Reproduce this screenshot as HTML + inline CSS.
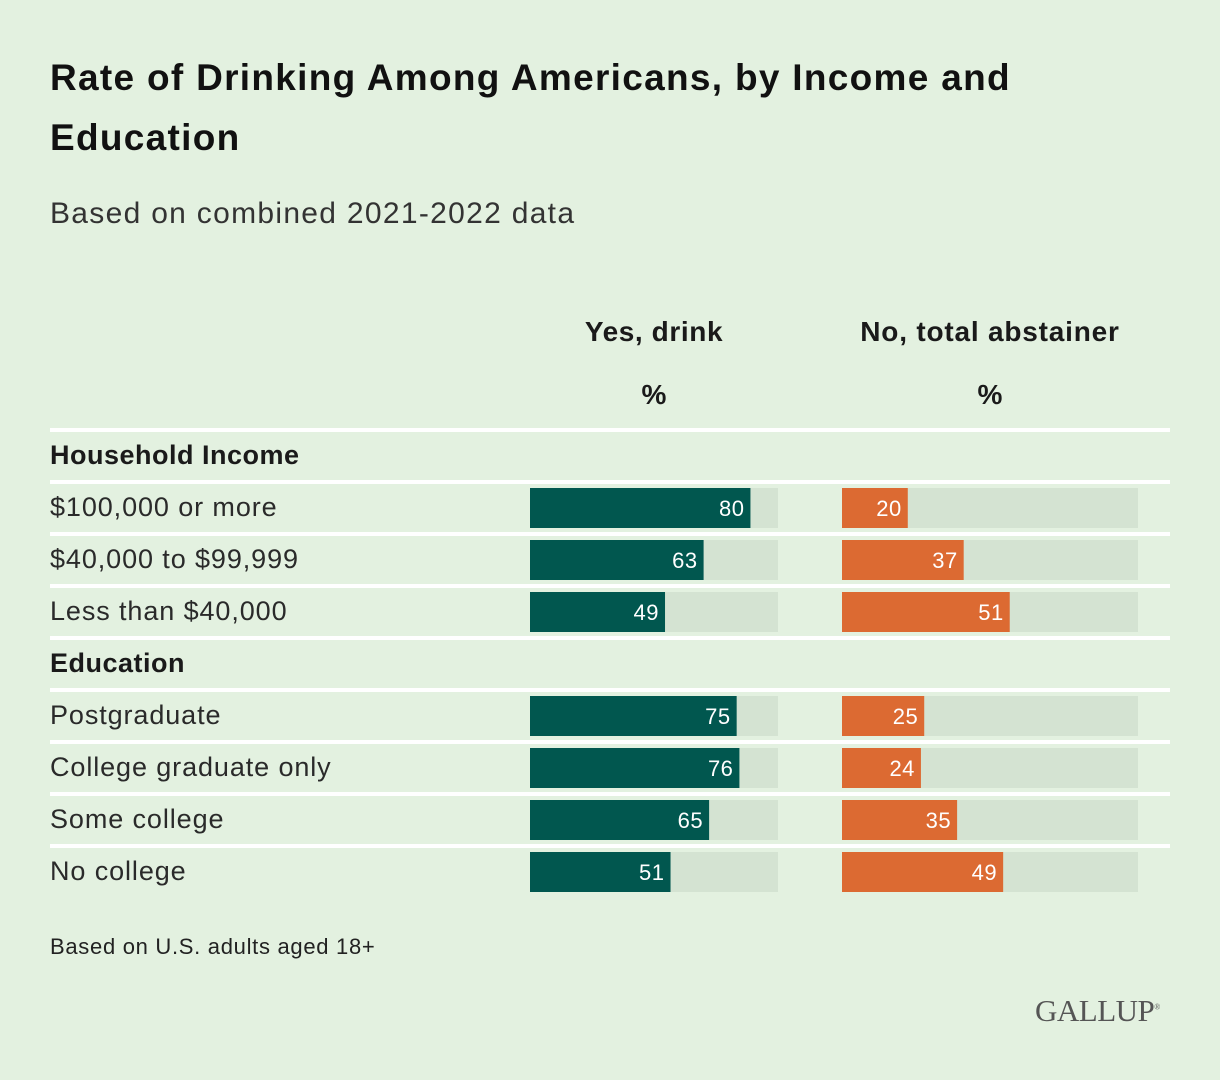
<!DOCTYPE html>
<html><head><meta charset="utf-8"><style>
body{margin:0;width:1220px;height:1080px;background:#e3f1e0;font-family:"Liberation Sans",sans-serif;color:#1a1a1a;position:relative;overflow:hidden}
.t{position:absolute;white-space:nowrap}
</style></head><body>
<div class="t" style="left:50px;top:48px;font-size:37px;font-weight:bold;line-height:60px;color:#111;letter-spacing:1.3px">Rate of Drinking Among Americans, by Income and<br>Education</div>
<div class="t" style="left:50px;top:197px;font-size:30px;color:#333;letter-spacing:1.3px">Based on combined 2021-2022 data</div>
<div class="t" style="left:530px;width:248px;text-align:center;top:316px;font-size:28px;font-weight:bold;letter-spacing:0.6px">Yes, drink</div>
<div class="t" style="left:842px;width:296px;text-align:center;top:316px;font-size:28px;font-weight:bold;letter-spacing:0.8px">No, total abstainer</div>
<div class="t" style="left:530px;width:248px;text-align:center;top:379px;font-size:28px;font-weight:bold">%</div>
<div class="t" style="left:842px;width:296px;text-align:center;top:379px;font-size:28px;font-weight:bold">%</div>
<svg id="c" width="1220" height="1080" style="position:absolute;left:0;top:0"></svg>
<div class="t" style="left:50px;top:934px;font-size:22px;color:#222;letter-spacing:0.7px">Based on U.S. adults aged 18+</div>
<div class="t" style="left:1035px;top:993px;font-size:31px;font-family:'Liberation Serif',serif;color:#555;letter-spacing:-0.5px">GALLUP<sup style="font-size:8px">®</sup></div>
<script>
const rows=["Household Income","$100,000 or more","$40,000 to $99,999","Less than $40,000","Education","Postgraduate","College graduate only","Some college","No college"];
const isHeader=[true,false,false,false,true,false,false,false,false];
const yesVals=[null,80,63,49,null,75,76,65,51];
const noVals=[null,20,37,51,null,25,24,35,49];
const maxVal=90;
const svg=document.getElementById('c');
const NS='http://www.w3.org/2000/svg';
function yRow(i){return 430+i*52;}
function xYes(v){return 530+v/maxVal*248;}
function xNo(v){return 842+v/maxVal*296;}
function mk(tag,attrs){const e=document.createElementNS(NS,tag);for(const k in attrs)e.setAttribute(k,attrs[k]);svg.appendChild(e);return e;}
for(let i=0;i<rows.length;i++){
  const l=mk('rect',{x:50,y:yRow(i)-2,width:1120,height:4,fill:'#ffffff'});
  
  
}
rows.forEach((r,i)=>{
  const y=yRow(i);
  const t=mk('text',{x:50,y:y+34,'font-size':27,'font-weight':isHeader[i]?'bold':'normal',fill:isHeader[i]?'#1a1a1a':'#2a2a2a','font-family':'Liberation Sans, sans-serif','letter-spacing':isHeader[i]?0.5:0.9});
  t.textContent=r;
  
  
  if(isHeader[i])return;
  [[yesVals[i],xYes,530,'#01574f'],[noVals[i],xNo,842,'#dc6a32']].forEach(([v,fx,x0,col],k)=>{
    const tr=mk('rect',{x:x0,y:y+6,width:fx(maxVal)-x0,height:40,fill:'#d4e3d2'});
    
    
    const b=mk('rect',{x:x0,y:y+6,width:fx(v)-x0,height:40,fill:col});
    
    
    const lt=mk('text',{x:fx(v)-6,y:y+34,'font-size':22,fill:'#fff','text-anchor':'end','font-family':'Liberation Sans, sans-serif','letter-spacing':0.5});
    lt.textContent=v;
    
    
  });
});
</script>
</body></html>
